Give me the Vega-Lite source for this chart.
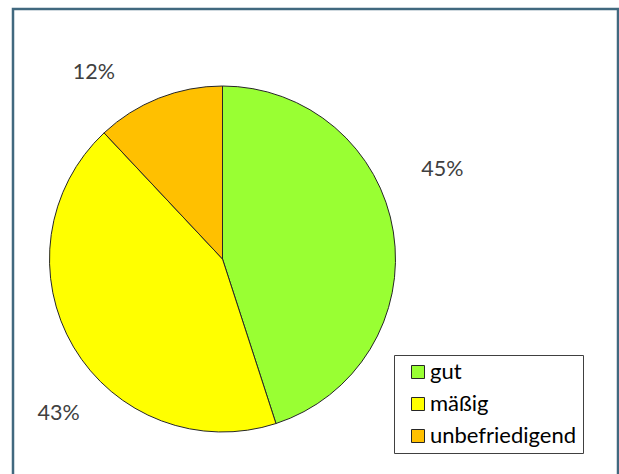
{
  "$schema": "https://vega.github.io/schema/vega-lite/v6.json",
  "autosize": "none",
  "width": 605,
  "height": 480,
  "padding": {"left": 13, "top": 9, "right": 1, "bottom": 0},
  "background": "white",
  "config": {
    "view": {"stroke": "#41697f", "strokeWidth": 2.5},
    "font": "Lato",
    "legend": {
      "orient": "none",
      "legendX": 381,
      "legendY": 346,
      "strokeColor": "#404040",
      "padding": 6,
      "symbolType": "square",
      "symbolSize": 169,
      "symbolStrokeColor": "#262626",
      "symbolStrokeWidth": 1,
      "symbolOffset": 7,
      "labelFontSize": 22,
      "labelFont": "Lato",
      "labelColor": "#000000",
      "labelOffset": 1,
      "rowPadding": 10,
      "title": null
    }
  },
  "data": {
    "values": [
      {"idx": 1, "kategorie": "gut", "anteil": 45, "label": "45%"},
      {"idx": 2, "kategorie": "mäßig", "anteil": 43, "label": "43%"},
      {"idx": 3, "kategorie": "unbefriedigend", "anteil": 12, "label": "12%"}
    ]
  },
  "encoding": {
    "theta": {"field": "anteil", "type": "quantitative", "stack": true},
    "order": {"field": "idx", "type": "quantitative"},
    "x": {"value": 209.5},
    "y": {"value": 250}
  },
  "layer": [
    {
      "mark": {"type": "arc", "outerRadius": 173, "stroke": "#262626", "strokeWidth": 1},
      "encoding": {
        "color": {
          "field": "kategorie",
          "type": "nominal",
          "scale": {"domain": ["gut", "mäßig", "unbefriedigend"], "range": ["#99ff33", "#ffff00", "#ffc000"]},
          "legend": {"title": null}
        }
      }
    },
    {
      "mark": {"type": "text", "radius": 173, "dx": 49, "dy": -62, "fontSize": 21.5, "color": "#404040", "align": "center", "baseline": "middle"},
      "encoding": {"text": {"condition": {"test": "datum.kategorie === 'gut'", "field": "label"}, "value": ""}}
    },
    {
      "mark": {"type": "text", "radius": 173, "dx": -15, "dy": 67, "fontSize": 21.5, "color": "#404040", "align": "center", "baseline": "middle"},
      "encoding": {"text": {"condition": {"test": "datum.kategorie === 'mäßig'", "field": "label"}, "value": ""}}
    },
    {
      "mark": {"type": "text", "radius": 173, "dx": -65, "dy": -25, "fontSize": 21.5, "color": "#404040", "align": "center", "baseline": "middle"},
      "encoding": {"text": {"condition": {"test": "datum.kategorie === 'unbefriedigend'", "field": "label"}, "value": ""}}
    }
  ]
}
